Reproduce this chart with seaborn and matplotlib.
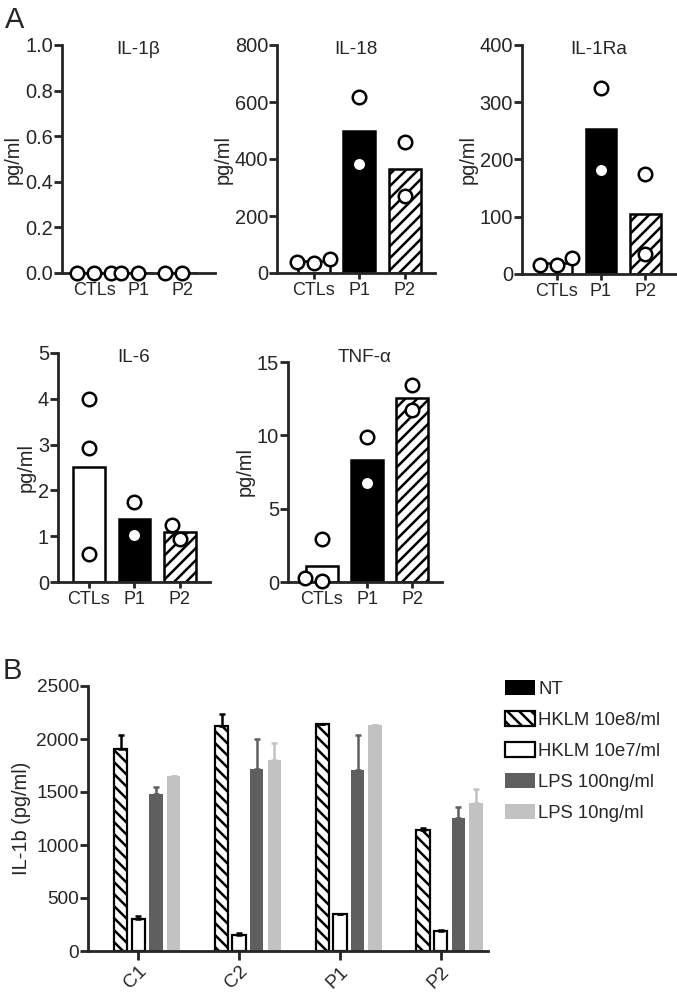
import matplotlib
matplotlib.use('Agg')
import matplotlib.pyplot as plt
import seaborn as sns
import numpy as np
import pandas as pd
from matplotlib.patches import Patch

# ---- Panel A: individual values (pg/ml) ----
groups = ['CTLs', 'P1', 'P2']

il1b_ctl = [0, 0, 0]
il1b_p1 = [0, 0]
il1b_p2 = [0, 0]

il18_ctl = [48, 38, 36]
il18_p1 = [616, 382]
il18_p2 = [461, 270]

il1ra_ctl = [28, 16, 16]
il1ra_p1 = [325, 182]
il1ra_p2 = [175, 35]

il6_ctl = [4.0, 2.93, 0.62]
il6_p1 = [1.75, 1.02]
il6_p2 = [1.24, 0.93]

tnf_ctl = [2.95, 0.09, 0.30]
tnf_p1 = [9.9, 6.76]
tnf_p2 = [13.4, 11.7]

# ---- Panel B: IL-1b (pg/ml), mean and upper SD ----
samples = ['C1', 'C2', 'P1', 'P2']
treatments = ['NT', 'HKLM 10e8/ml', 'HKLM 10e7/ml', 'LPS 100ng/ml', 'LPS 10ng/ml']
nt = [0, 0, 0, 0]
nt_sd = [0, 0, 0, 0]
hklm8 = [1909, 2126, 2142, 1142]
hklm8_sd = [132, 114, 0, 16]
hklm7 = [303, 148, 347, 186]
hklm7_sd = [25, 26, 0, 13]
lps100 = [1483, 1716, 1710, 1253]
lps100_sd = [63, 284, 331, 110]
lps10 = [1653, 1801, 2136, 1395]
lps10_sd = [0, 165, 0, 132]

W, H = 677, 998
DPI = 72

sns.set_theme(style='ticks')
plt.rcParams['font.family'] = ['Liberation Sans', 'DejaVu Sans']
plt.rcParams['axes.linewidth'] = 2.8
plt.rcParams['hatch.linewidth'] = 2.5

fig = plt.figure(figsize=(W / DPI, H / DPI), dpi=DPI)


def add_axes_px(x0, y0, x1, y1):
    return fig.add_axes([x0 / W, 1 - y1 / H, (x1 - x0) / W, (y1 - y0) / H])


def panel_a(box, title, ctl, p1, p2, ymax, ystep, fmt, xlim, title_y):
    ax = add_axes_px(*box)
    df = pd.DataFrame({
        'group': ['CTLs'] * len(ctl) + ['P1'] * len(p1) + ['P2'] * len(p2),
        'value': list(ctl) + list(p1) + list(p2),
    })
    sns.barplot(data=df, x='group', y='value', hue='group', order=groups,
                hue_order=groups, palette={'CTLs': 'white', 'P1': 'black', 'P2': 'white'},
                errorbar=None, width=0.7, edgecolor='black', linewidth=2.5,
                legend=False, ax=ax)
    ax.patches[2].set_hatch('//')
    sns.swarmplot(data=df, x='group', y='value', order=groups, color='white',
                  edgecolor='black', linewidth=2.5, size=13.5, ax=ax, zorder=5)
    for c in ax.collections:
        c.set_clip_on(False)
    ticks = np.arange(0, ymax + ystep / 2, ystep)
    ax.set_ylim(0, ymax)
    ax.set_yticks(ticks)
    ax.set_yticklabels([fmt.format(v) for v in ticks], fontsize=20)
    ax.set_xlim(*xlim)
    ax.set_xticks(range(3))
    ax.set_xticklabels(groups, fontsize=18)
    ax.set_xlabel('')
    ax.set_ylabel('pg/ml', fontsize=20, labelpad=2)
    ax.tick_params(axis='y', length=8, width=2.8, pad=1)
    ax.tick_params(axis='x', length=6, width=2.8, pad=3)
    sns.despine(ax=ax)
    x0, y0, x1, y1 = box
    fig.text((x0 + x1) / 2 / W, 1 - title_y / H, title, ha='center', va='center',
             fontsize=19)
    return ax


panel_a((62, 45, 215, 273), 'IL-1β', il1b_ctl, il1b_p1, il1b_p2, 1.0, 0.2, '{:.1f}',
        (-0.73, 2.75), 50)
panel_a((277, 45, 435, 273), 'IL-18', il18_ctl, il18_p1, il18_p2, 800, 200, '{:.0f}',
        (-0.81, 2.66), 50)
panel_a((522, 45, 676, 274), 'IL-1Ra', il1ra_ctl, il1ra_p1, il1ra_p2, 400, 100, '{:.0f}',
        (-0.79, 2.7), 50)
panel_a((58, 353, 210, 582), 'IL-6', il6_ctl, il6_p1, il6_p2, 5, 1, '{:.0f}',
        (-0.68, 2.66), 358)
panel_a((288, 362, 442, 582), 'TNF-α', tnf_ctl, tnf_p1, tnf_p2, 15, 5, '{:.0f}',
        (-0.75, 2.66), 358)

fig.text(5 / W, 1 - 6 / H, 'A', fontsize=29, va='top', ha='left')
fig.text(3 / W, 1 - 657 / H, 'B', fontsize=29, va='top', ha='left')

# ---- Panel B ----
axb = add_axes_px(88, 686, 488, 951)
means = [nt, hklm8, hklm7, lps100, lps10]
sds = [nt_sd, hklm8_sd, hklm7_sd, lps100_sd, lps10_sd]
dfb = pd.DataFrame({
    'sample': samples * len(treatments),
    'treatment': np.repeat(treatments, len(samples)),
    'value': np.concatenate(means),
})
face = ['black', 'white', 'white', '#5f5f5f', '#c2c2c2']
edge = ['black', 'black', 'black', '#5f5f5f', '#c2c2c2']
hatch = [None, '\\\\', None, None, None]
lw = [0, 2.2, 2.2, 0, 0]
sns.barplot(data=dfb, x='sample', y='value', hue='treatment', order=samples,
            hue_order=treatments, palette=dict(zip(treatments, face)),
            errorbar=None, width=0.875, gap=0.24, legend=False, ax=axb)
bar_conts = list(axb.containers)
for i, cont in enumerate(bar_conts):
    xs = []
    for p in cont.patches:
        p.set_facecolor(face[i])
        p.set_edgecolor(edge[i])
        p.set_linewidth(lw[i])
        if hatch[i]:
            p.set_hatch(hatch[i])
        xs.append(p.get_x() + p.get_width() / 2)
    if i > 0:
        axb.errorbar(xs, means[i], yerr=[np.zeros(len(xs)), sds[i]], fmt='none',
                     ecolor=edge[i], elinewidth=2.5, capsize=3, capthick=2.5,
                     zorder=1)
axb.set_ylim(0, 2500)
axb.set_yticks(range(0, 2501, 500))
axb.set_xlim(-0.5, 3.47)
axb.tick_params(axis='y', length=8, width=2.8, labelsize=19, pad=1)
axb.tick_params(axis='x', length=9, width=2.8, labelsize=19, pad=3)
plt.setp(axb.get_xticklabels(), rotation=45, ha='right', rotation_mode='anchor')
axb.set_xlabel('')
axb.set_ylabel('IL-1b (pg/ml)', fontsize=20, labelpad=5)
sns.despine(ax=axb)

handles = [Patch(facecolor=face[i], edgecolor=edge[i], hatch=hatch[i],
                 linewidth=2.2 if lw[i] else 0) for i in range(len(treatments))]
fig.legend(handles, treatments, loc='upper left', bbox_to_anchor=(505 / W, 1 - 680 / H),
           frameon=False, fontsize=18.5, handlelength=1.6, handleheight=0.9,
           handletextpad=0.2, labelspacing=0.7, borderpad=0, borderaxespad=0)

fig.savefig('out.png', dpi=DPI)
